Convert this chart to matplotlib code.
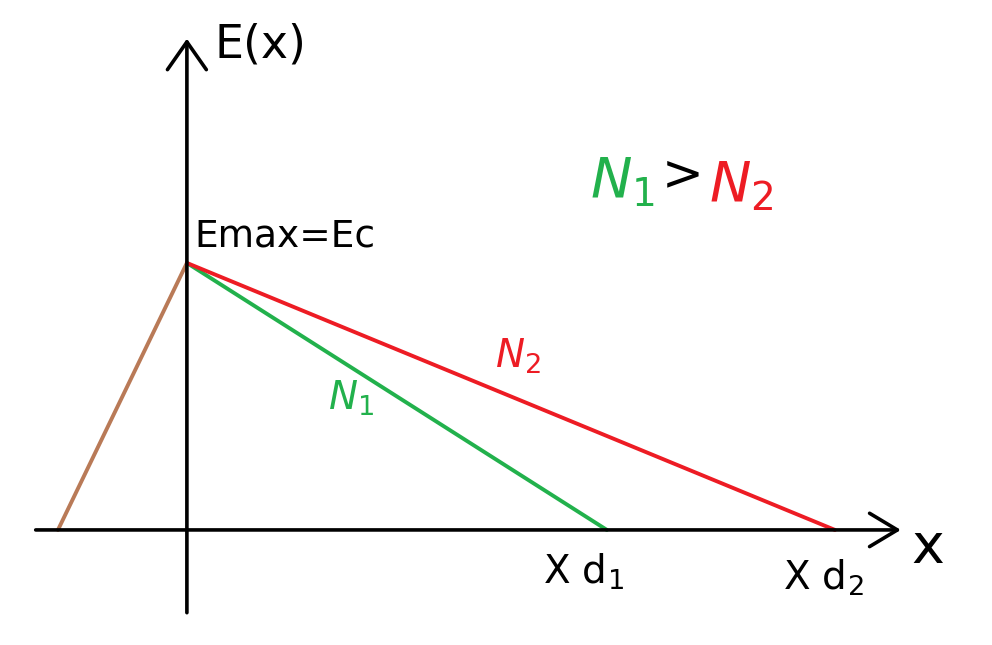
import matplotlib.pyplot as plt

# sketch values (x in units of x_d1, E in units of E_max)
x_start = -0.307      # where the left (brown) ramp starts
E_max = 1.0           # peak field at x = 0
x_d1 = 1.0            # depletion edge for N1
x_d2 = 1.543          # depletion edge for N2

brown = '#b97a57'
green = '#22b14c'
red = '#ed1c24'

fig = plt.figure(figsize=(9.92, 6.45), dpi=100)
ax = fig.add_axes([0, 0, 1, 1])
ax.set_xlim(-0.445, 1.917)
ax.set_ylim(-0.431, 1.985)
ax.axis('off')

# axes with open arrow heads
ax.annotate('', xy=(1.70, 0), xytext=(-0.36, 0),
            arrowprops=dict(arrowstyle='->,head_length=0.5,head_width=0.3',
                            lw=2.6, color='black', mutation_scale=40,
                            shrinkA=0, shrinkB=0))
ax.annotate('', xy=(0, 1.84), xytext=(0, -0.31),
            arrowprops=dict(arrowstyle='->,head_length=0.5,head_width=0.35',
                            lw=2.6, color='black', mutation_scale=40,
                            shrinkA=0, shrinkB=0))

# field profiles
ax.plot([x_start, 0], [0, E_max], color=brown, lw=2.8, solid_capstyle='round')
ax.plot([0, x_d1], [E_max, 0], color=green, lw=2.8, solid_capstyle='round')
ax.plot([0, x_d2], [E_max, 0], color=red, lw=2.8, solid_capstyle='round')

# labels
fig.text(0.216, 0.930, 'E(x)', fontsize=33, ha='left', va='center')
fig.text(0.196, 0.633, 'Emax=Ec', fontsize=27, ha='left', va='center')
fig.text(0.919, 0.150, 'x', fontsize=40, ha='left', va='center')
fig.text(0.547, 0.113, r'X $\mathrm{d}_1$', fontsize=28, ha='left', va='center')
fig.text(0.789, 0.104, r'X $\mathrm{d}_2$', fontsize=28, ha='left', va='center')

fig.text(0.331, 0.383, r'$N_1$', fontsize=28, color=green, ha='left', va='center')
fig.text(0.499, 0.447, r'$N_2$', fontsize=28, color=red, ha='left', va='center')

fig.text(0.595, 0.718, r'$N_1$', fontsize=40, color=green, ha='left', va='center')
fig.text(0.688, 0.728, '>', fontsize=36, color='black', ha='center', va='center')
fig.text(0.715, 0.712, r'$N_2$', fontsize=40, color=red, ha='left', va='center')

fig.savefig('out.png', dpi=100)
